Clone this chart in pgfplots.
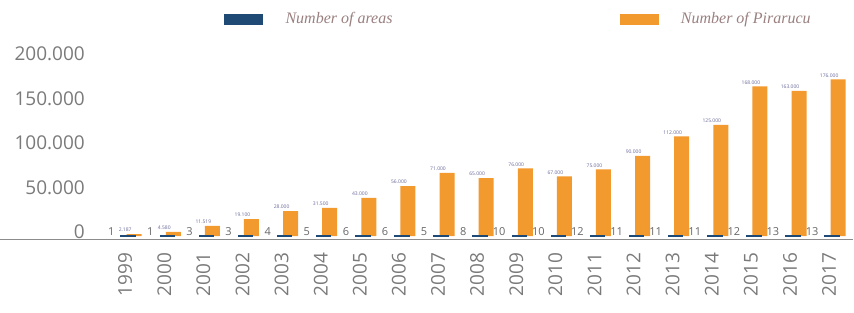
\documentclass[border=0pt]{standalone}
\usepackage{pgfplots}
\usepackage{pgfplotstable}
\pgfplotsset{compat=1.18}
\usepackage{fontspec}
\setmainfont{Open Sans}
\newfontfamily\legfont{Liberation Serif}
\definecolor{areablue}{HTML}{1F4A75}
\definecolor{piraorange}{HTML}{F29A2E}
\definecolor{tickgray}{HTML}{7A7A7A}
\definecolor{leggray}{HTML}{9A7F7F}
\definecolor{vallab}{HTML}{6A6A9A}

\pgfplotstableread{
x pira areas
0 2187 1
1 4580 1
2 11519 3
3 19100 3
4 28000 4
5 31500 5
6 43000 6
7 56000 6
8 71000 5
9 65000 8
10 76000 10
11 67000 10
12 75000 12
13 90000 11
14 112000 11
15 125000 11
16 168000 12
17 163000 13
18 176000 13
}\datatable

\begin{document}
\begin{tikzpicture}
\path[use as bounding box] (0pt,0pt) rectangle (854pt,313pt);
\begin{axis}[
  at={(0pt,73.4pt)}, anchor=south west,
  scale only axis, width=852.6pt, height=190.5pt,
  xmin=-3.2, xmax=18.6, ymin=-4000, ymax=210000,
  clip=false,
  axis x line*=bottom, axis y line*=left,
  x axis line style={-, draw=black!45, line width=1.2pt},
  y axis line style={draw=none},
  tick style={draw=none},
  xtick={0,...,18},
  xticklabels={1999,2000,2001,2002,2003,2004,2005,2006,2007,2008,2009,2010,2011,2012,2013,2014,2015,2016,2017},
  ytick={0,50000,100000,150000,200000},
  scaled y ticks=false,
  /pgf/number format/assume math mode=true,
  yticklabel style={/pgf/number format/.cd, fixed, 1000 sep={.}, /tikz/.cd,
     font=\fontsize{19}{20}\selectfont, text=tickgray, anchor=east, inner sep=0pt, xshift=85pt, yshift=4pt},
  xticklabel style={yshift=-13pt, rotate=90, anchor=east, inner sep=0pt,
     font=\fontsize{19}{20}\selectfont, text=tickgray},
  legend columns=2,
  legend style={draw=none, fill=none, inner sep=0pt, at={(0.2627,1.158)}, anchor=west,
     font=\legfont\itshape\fontsize{16}{18}\selectfont, text=leggray,
     nodes={inner sep=0pt},
     /tikz/every odd column/.style={column sep=23pt},
     /tikz/every even column/.style={column sep=227pt}},
]
\addlegendimage{legend image code/.code={\fill[areablue] (0pt,-5pt) rectangle (38pt,5pt);}}
\addlegendentry{Number of areas}
\addlegendimage{legend image code/.code={\fill[piraorange] (0pt,-5pt) rectangle (38pt,5pt);}}
\addlegendentry{Number of Pirarucu}

\addplot[ybar, bar width=15pt, bar shift=9pt, fill=piraorange, draw=none, forget plot,
  nodes near coords={\pgfmathprintnumber[fixed, precision=0, 1000 sep={.}]{\pgfplotspointmeta}},
  every node near coord/.append style={font=\fontsize{5}{6}\selectfont, text=vallab, inner sep=1pt, yshift=1pt}]
  table[x=x, y=pira] {\datatable};

\addplot[ybar, bar width=14pt, bar shift=3pt, fill=areablue, draw=areablue, line width=1.5pt, forget plot,
  nodes near coords,
  every node near coord/.append style={anchor=south east, xshift=-10pt, font=\fontsize{11}{12}\selectfont, text=black!60, inner sep=0pt}]
  table[x=x, y=areas] {\datatable};
\end{axis}
\end{tikzpicture}
\end{document}
